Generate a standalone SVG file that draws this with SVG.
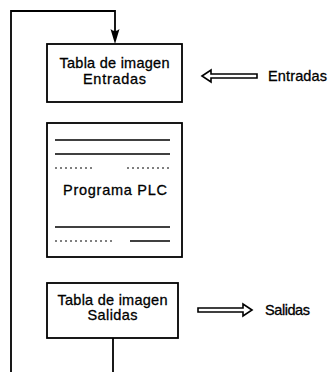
<svg xmlns="http://www.w3.org/2000/svg" width="331" height="372" viewBox="0 0 331 372">
<style>
.box{fill:#fff;stroke:#000;stroke-width:1.8}
.t{font-family:"Liberation Sans",Arial,sans-serif;font-size:14.5px;fill:#000;stroke:#000;stroke-width:0.3;text-anchor:middle}
.tl{font-family:"Liberation Sans",Arial,sans-serif;font-size:14.5px;fill:#000;stroke:#000;stroke-width:0.3}
.wire{fill:none;stroke:#000;stroke-width:1.8}
.head{fill:#000;stroke:none}
.code{stroke:#000;stroke-width:1.3;fill:none}
.dots{stroke:#000;stroke-width:1;fill:none;stroke-dasharray:2 3}
.hollow{fill:#fff;stroke:#000;stroke-width:1.6;stroke-linejoin:miter}
</style>
<g id="connectors">
<path class="wire" d="M11,372 V11 H115 V32"/>
<path class="head" d="M110.5,29 Q115,33 119.5,29 L115,44 z"/>
<path class="wire" d="M113,338 V372"/>
</g>
<g id="tabla-entradas">
<rect class="box" x="47" y="44" width="135" height="58"/>
<text class="t" x="114.5" y="68" textLength="110">Tabla de imagen</text>
<text class="t" x="114.5" y="84" textLength="63">Entradas</text>
</g>
<g id="entradas">
<polygon class="hollow" points="202,76 211,70 211,74 257,74 257,78 211,78 211,82"/>
<text class="tl" x="268" y="81" textLength="59">Entradas</text>
</g>
<g id="programa-plc">
<rect class="box" x="47" y="123" width="135" height="134"/>
<line class="code" x1="55" y1="140" x2="170" y2="140"/>
<line class="code" x1="55" y1="154" x2="170" y2="154"/>
<line class="dots" x1="55" y1="168" x2="95" y2="168"/>
<line class="dots" x1="127" y1="168" x2="170" y2="168"/>
<text class="t" x="115" y="195" textLength="104">Programa PLC</text>
<line class="code" x1="55" y1="227" x2="170" y2="227"/>
<line class="dots" x1="55" y1="241" x2="112" y2="241"/>
<line class="code" x1="130" y1="241" x2="170" y2="241"/>
</g>
<g id="tabla-salidas">
<rect class="box" x="47" y="283" width="131" height="55"/>
<text class="t" x="112.5" y="305" textLength="110">Tabla de imagen</text>
<text class="t" x="112.5" y="320" textLength="50">Salidas</text>
</g>
<g id="salidas">
<polygon class="hollow" points="252,310 243,304 243,308 198,308 198,312 243,312 243,316"/>
<text class="tl" x="265" y="315" textLength="45">Salidas</text>
</g>
</svg>
